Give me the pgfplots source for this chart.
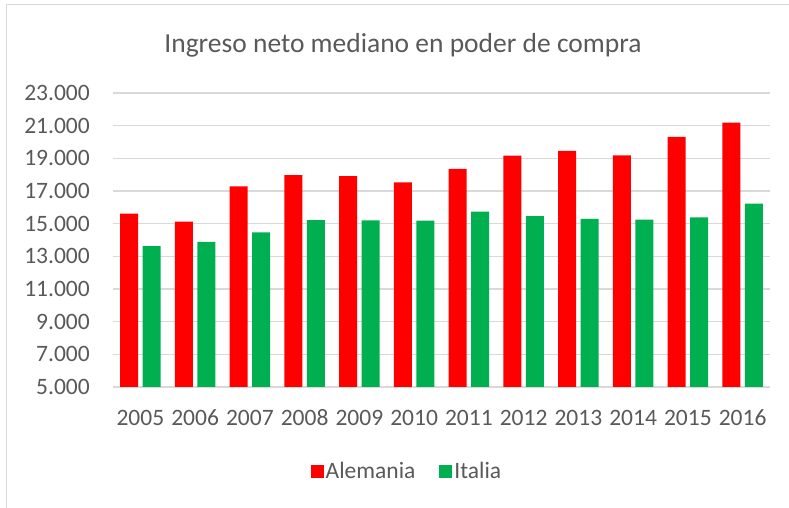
\documentclass[border=0pt]{standalone}
\usepackage{pgfplots}
\pgfplotsset{compat=1.18}
\usepackage{fontspec}
\setmainfont{Carlito}
\definecolor{txt}{HTML}{595959}
\definecolor{gridc}{HTML}{D9D9D9}
\definecolor{dered}{HTML}{FF0000}
\definecolor{itgreen}{HTML}{00B050}
\begin{document}
\begin{tikzpicture}
\useasboundingbox (-113pt,-121pt) rectangle (676pt,387pt);
\draw[gridc, line width=1pt] (-106pt,-121pt) -- (-106pt,382pt) -- (676pt,382pt);
\node[anchor=base, inner sep=0pt, text=txt, font=\fontsize{27.5}{32}\selectfont] at (290pt,334.7pt) {Ingreso neto mediano en poder de compra};
\begin{axis}[
  at={(0pt,0pt)}, anchor=south west,
  scale only axis, width=657pt, height=294pt,
  ybar=4.7pt, bar width=18pt,
  xmin=-0.5, xmax=11.5, ymin=5000, ymax=23000,
  xtick=data,
  xticklabels={2005,2006,2007,2008,2009,2010,2011,2012,2013,2014,2015,2016},
  ytick={5000,7000,...,23000},
  scaled y ticks=false,
  major tick length=0pt,
  axis line style={draw=none},
  ymajorgrids, grid style={gridc, line width=1.2pt},
  tick label style={text=txt, font=\fontsize{23.5}{28}\selectfont},
  yticklabel style={inner sep=0pt, anchor=east, xshift=-23pt,
    /pgf/number format/.cd, fixed, 1000 sep={.}, assume math mode=true},
  xticklabel style={inner sep=0pt, anchor=base, yshift=-38.7pt},
  legend columns=2,
  legend style={draw=none, fill=none, at={(0.4475,-0.2874)}, anchor=center,
    font=\fontsize{23.5}{28}\selectfont, text=txt,
    /tikz/every even column/.append style={column sep=22pt},
    nodes={inner sep=2pt}},
  legend image code/.code={\fill[#1] (-3pt,-6.5pt) rectangle (10pt,6.5pt);},
]
\addplot[fill=dered, draw=none] coordinates {
(0,15610) (1,15130) (2,17280) (3,17975) (4,17915) (5,17525)
(6,18360) (7,19165) (8,19450) (9,19180) (10,20320) (11,21180)};
\addplot[fill=itgreen, draw=none] coordinates {
(0,13620) (1,13880) (2,14470) (3,15220) (4,15200) (5,15180)
(6,15730) (7,15460) (8,15300) (9,15240) (10,15385) (11,16220)};
\legend{Alemania,Italia}
\end{axis}
\end{tikzpicture}
\end{document}
